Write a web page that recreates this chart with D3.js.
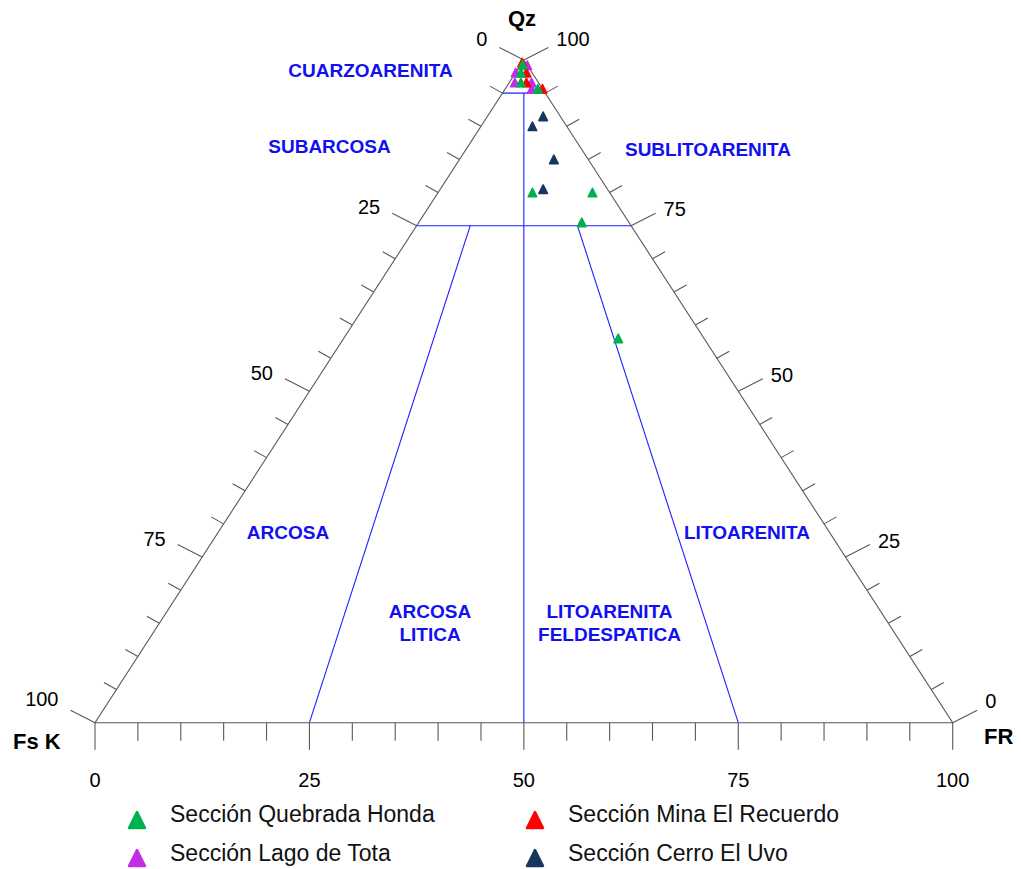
<!DOCTYPE html>
<html><head><meta charset="utf-8">
<script src="https://cdn.jsdelivr.net/npm/d3@7"></script>
<style>
html,body{margin:0;padding:0;background:#fff;}
svg{display:block;font-family:"Liberation Sans",Arial,sans-serif;}
</style></head>
<body>
<svg id="chart" width="1021" height="869"></svg>
<script>
// ---------- DATA (Qz, FsK, FR in %) ----------
const vertexLabels = ["Qz", "Fs K", "FR"];
const tickValues = [0, 25, 50, 75, 100];
const seriesNames = ["Sección Quebrada Honda", "Sección Mina El Recuerdo", "Sección Lago de Tota", "Sección Cerro El Uvo"];
const seriesColors = ["#00b050", "#ff0000", "#c22ee6", "#17365d"];
const quebradaHonda = [
  [99.3, 0.5, 0.2], [98.1, 1.3, 0.6], [96.6, 2.05, 1.35], [95.65, 0.55, 3.8],
  [80, 9, 11], [80, 2, 18], [75.5, 5.5, 19], [58, 10, 32]
];
const minaElRecuerdo = [
  [99.6, 0.4, 0.0], [98.1, 0.64, 1.26], [96.6, 1.4, 2.0], [95.65, 0.0, 4.35]
];
const lagoDeTota = [
  [99.2, 0.0, 0.8], [98.1, 1.9, 0.0], [96.6, 2.75, 0.65], [96.6, 0.8, 2.6], [95.65, 1.25, 3.1]
];
const cerroElUvo = [
  [91.5, 2, 6.5], [90, 4, 6], [85, 4, 11], [80.5, 7.5, 12]
];
// classification fields (Folk)
const regionNames = ["CUARZOARENITA", "SUBARCOSA", "SUBLITOARENITA", "ARCOSA", "LITOARENITA",
  ["ARCOSA", "LITICA"], ["LITOARENITA", "FELDESPATICA"]];
// boundaries: [Qz, FR] start -> [Qz, FR] end
const boundaries = [
  [[95, 0], [95, 5]],
  [[75, 0], [75, 25]],
  [[95, 2.5], [0, 50]],
  [[75, 6.25], [0, 25]],
  [[75, 18.75], [0, 75]]
];

// ---------- LAYOUT ----------
const svg = d3.select("#chart");
const xs = d3.scaleLinear().domain([0, 1]).range([95, 952.7]);
const ys = d3.scaleLinear().domain([0, 100]).range([722.7, 60]);
const proj = (qz, fr) => [xs(fr / 100 + qz / 200), ys(qz)];
const edgeColor = "#595959";
const blue = "#1f1fff";
const labelBlue = "#1010f0";

// classification lines
boundaries.forEach(b => {
  const p0 = proj(b[0][0], b[0][1]), p1 = proj(b[1][0], b[1][1]);
  svg.append("line").attr("x1", p0[0]).attr("y1", p0[1]).attr("x2", p1[0]).attr("y2", p1[1])
    .attr("stroke", blue).attr("stroke-width", 1.1);
});

// triangle
const tri = [proj(100, 0), proj(0, 0), proj(0, 100)];
svg.append("path").attr("d", d3.line()([...tri, tri[0]]))
  .attr("fill", "none").attr("stroke", edgeColor).attr("stroke-width", 1.1);

// ticks
const steps = d3.range(0, 101, 5);
const tickG = svg.append("g").attr("stroke", edgeColor).attr("stroke-width", 1.1);
const isMajor = v => v % 25 === 0;
steps.forEach(f => {
  const p = proj(0, f);
  tickG.append("line").attr("x1", p[0]).attr("y1", p[1]).attr("x2", p[0]).attr("y2", p[1] + (isMajor(f) ? 27 : 18));
});
steps.forEach(t => {
  const p = proj(100 - t, 0);
  const v = isMajor(t) ? [-24.5, -12.5] : [-12.5, -7];
  tickG.append("line").attr("x1", p[0]).attr("y1", p[1]).attr("x2", p[0] + v[0]).attr("y2", p[1] + v[1]);
});
steps.forEach(q => {
  const p = proj(q, 100 - q);
  const v = isMajor(q) ? [24.5, -12.5] : [12.5, -7];
  tickG.append("line").attr("x1", p[0]).attr("y1", p[1]).attr("x2", p[0] + v[0]).attr("y2", p[1] + v[1]);
});

// tick labels
const tl = svg.append("g").attr("font-size", 20).attr("fill", "#000");
tickValues.forEach(v => {
  const pb = proj(0, v);
  tl.append("text").attr("x", pb[0]).attr("y", pb[1] + 64).attr("text-anchor", "middle").text(v);
  const pl = proj(100 - v, 0);
  const dyL = v === 100 ? -5 : (v === 0 ? -3 : 0);
  tl.append("text").attr("x", pl[0] - 24.5 - 12).attr("y", pl[1] - 12.5 + 1 + dyL).attr("text-anchor", "end").text(v);
  const pr = proj(v, 100 - v);
  const dyR = (v === 100 || v === 0) ? -3 : 2;
  tl.append("text").attr("x", pr[0] + 24.5 + 8).attr("y", pr[1] - 12.5 + 1 + dyR).attr("text-anchor", "start").text(v);
});

// vertex labels
const vl = svg.append("g").attr("font-size", 22).attr("font-weight", "bold").attr("fill", "#000");
vl.append("text").attr("x", 522).attr("y", 26).attr("text-anchor", "middle").text(vertexLabels[0]);
vl.append("text").attr("x", 13).attr("y", 749).text(vertexLabels[1]);
vl.append("text").attr("x", 984).attr("y", 744).text(vertexLabels[2]);

// region labels
const regionPos = [[370.5, 77], [329.5, 153], [708, 156], [288, 539], [747, 539], [430, 618], [609.5, 618]];
const rg = svg.append("g").attr("font-size", 19).attr("font-weight", "bold").attr("fill", labelBlue).attr("text-anchor", "middle");
regionNames.forEach((n, i) => {
  const lines = Array.isArray(n) ? n : [n];
  lines.forEach((ln, j) => {
    rg.append("text").attr("x", regionPos[i][0]).attr("y", regionPos[i][1] + j * 23).text(ln);
  });
});

// markers
const triPath = (cx, cy, w, h) => `M${cx},${cy - h / 2}L${cx + w / 2},${cy + h / 2}L${cx - w / 2},${cy + h / 2}Z`;
const drawOrder = [[lagoDeTota, 2], [minaElRecuerdo, 1], [quebradaHonda, 0], [cerroElUvo, 3]];
drawOrder.forEach(([data, ci]) => {
  svg.append("g").selectAll("path").data(data).join("path")
    .attr("d", d => { const p = proj(d[0], d[2]); return triPath(p[0], p[1], 8.5, 8.5); })
    .attr("fill", seriesColors[ci]).attr("stroke", seriesColors[ci]).attr("stroke-width", 1.6)
    .attr("stroke-linejoin", "round");
});

// legend
const legPos = [[137, 820, 170, 822], [535, 820, 568, 822], [137, 858, 170, 861], [535, 858, 568, 861]];
const lg = svg.append("g");
seriesNames.forEach((n, i) => {
  const p = legPos[i];
  lg.append("path").attr("d", triPath(p[0], p[1], 16, 16))
    .attr("fill", seriesColors[i]).attr("stroke", seriesColors[i]).attr("stroke-width", 2.5).attr("stroke-linejoin", "round");
  lg.append("text").attr("x", p[2]).attr("y", p[3]).attr("font-size", 23).attr("fill", "#111").text(n);
});
</script>
</body></html>
